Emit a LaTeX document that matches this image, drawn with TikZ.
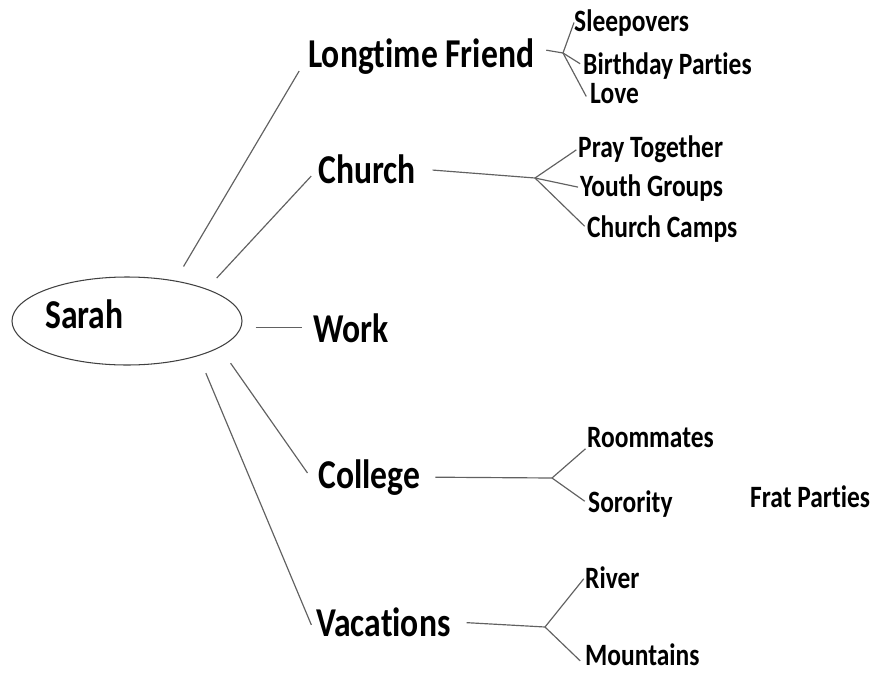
\documentclass[tikz,border=0pt]{standalone}
\usepackage{fontspec}
\setmainfont{Carlito}[FakeStretch=0.82,Ligatures=NoCommon]
\usepackage{tikz}
\usetikzlibrary{shapes.geometric}

\begin{document}
\begin{tikzpicture}[x=0.03cm,y=-0.03cm,
    big/.style={font=\fontsize{35}{40}\selectfont\bfseries,inner sep=0,anchor=base west},
    small/.style={font=\fontsize{26.5}{30}\selectfont\bfseries,inner sep=0,anchor=base west},
    link/.style={draw=black!62,line width=1pt}]
      \useasboundingbox (0,0) rectangle (875,672);
      \node[draw=black!75,line width=0.9pt,ellipse,minimum width=6.9cm,minimum height=2.64cm,inner sep=0] (sarah) at (127,321) {};
      \node[big] (name) at (45,328) {Sarah};
      \node[big] (friend) at (308,67) {Longtime Friend};
      \node[big] (church) at (318,183) {Church};
      \node[big] (work) at (313,342) {Work};
      \node[big] (college) at (318,488) {College};
      \node[big] (vacations) at (316,636) {Vacations};
      \node[small] (sleepovers) at (574,31) {Sleepovers};
      \node[small] (birthday) at (583,74) {Birthday Parties};
      \node[small] (love) at (590,103) {Love};
      \node[small] (pray) at (578,157) {Pray Together};
      \node[small] (youth) at (580,196) {Youth Groups};
      \node[small] (camps) at (587,237) {Church Camps};
      \node[small] (roommates) at (587,447) {Roommates};
      \node[small] (sorority) at (588,512) {Sorority};
      \node[small] (frat) at (750,507) {Frat Parties};
      \node[small] (river) at (585,588) {River};
      \node[small] (mountains) at (585,665) {Mountains};
      \coordinate (hubF) at (563,53);
      \coordinate (hubC) at (535,178);
      \coordinate (hubL) at (552,478);
      \coordinate (hubV) at (545,627);
      \draw[link,shorten <=0.49cm,shorten >=0.52cm] (sarah.40) -- (friend.west);
      \draw[link,shorten <=0.44cm,shorten >=0.3cm] (sarah.22.6) -- (church.west);
      \draw[link,shorten <=0.39cm,shorten >=0.33cm] (work.west -| sarah.east) -- (work.west);
      \draw[link,shorten <=0.57cm,shorten >=0.55cm] (sarah.-16) -- (college.base west);
      \draw[link,shorten <=0.56cm,shorten >=0.36cm] (sarah.-26.5) -- (vacations.base west);
      \draw[link,shorten <=0.36cm] (friend.4) -- (hubF);
      \draw[link] (hubF) -- (sleepovers.west);
      \draw[link,shorten >=0.1cm] (hubF) -- (birthday.west);
      \draw[link,shorten >=0.24cm] (hubF) -- (love.south west);
      \draw[link,shorten <=0.5cm] (church.east) -- (hubC);
      \draw[link,shorten >=0.06cm] (hubC) -- (pray.west);
      \draw[link,shorten >=0.06cm] (hubC) -- (youth.west);
      \draw[link,shorten >=0.1cm] (hubC) -- (camps.west);
      \draw[link,shorten <=0.45cm] (college.east) -- (hubL);
      \draw[link,shorten >=0.06cm] (hubL) -- (roommates.south west);
      \draw[link,shorten >=0.12cm] (hubL) -- (sorority.west);
      \draw[link,shorten <=0.48cm] (vacations.east) -- (hubV);
      \draw[link,shorten >=0.06cm] (hubV) -- (river.west);
      \draw[link,shorten >=0.2cm] (hubV) -- (mountains.south west);
    \end{tikzpicture}
\end{document}
